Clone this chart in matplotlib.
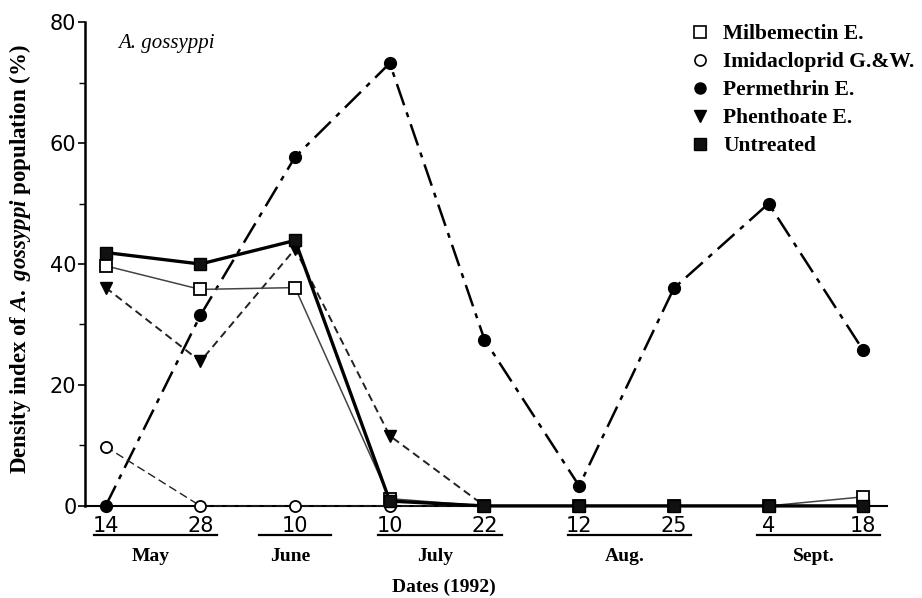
import numpy as np
import matplotlib.pyplot as plt
import matplotlib.transforms as mtransforms
from matplotlib.lines import Line2D

plt.rcParams['font.family'] = ['DejaVu Sans']
plt.rcParams['mathtext.fontset'] = 'custom'
plt.rcParams['mathtext.it'] = 'Liberation Serif:italic:bold'
plt.rcParams['mathtext.rm'] = 'Liberation Serif:bold'

# 调查日期 (1992)
days = ['14', '28', '10', '10', '22', '12', '25', '4', '18']
months = ['May', 'June', 'July', 'Aug.', 'Sept.']
month_days = [[0, 1], [2], [3, 4], [5, 6], [7, 8]]

# 密度指数 (%)
milbemectin = [39.7, 35.8, 36.1, 1.2, 0, 0, 0, 0, 1.5]
imidacloprid = [9.8, 0, 0, 0, 0, 0, 0, 0, 0]
permethrin = [0, 31.5, 57.7, 73.2, 27.5, 3.3, 36.0, 50.0, 25.7]
phenthoate = [36.1, 23.9, 42.5, 11.6, 0, 0, 0, 0, 0]
untreated = [41.9, 40.0, 43.9, 0.8, 0, 0, 0, 0, 0]

serif = 'Liberation Serif'
x = np.arange(len(days))

fig = plt.figure(figsize=(9.22, 5.98), dpi=100)
ax = fig.add_axes([0.092, 0.154, 0.870, 0.809])

# 各处理曲线
ax.plot(x, permethrin, color='k', lw=1.8, dashes=(9, 3, 2, 3),
        marker='o', ms=8.5, mfc='k', mec='k', zorder=2, clip_on=False)
ax.plot(x, phenthoate, color='#222222', lw=1.4, dashes=(4, 2.5),
        marker='v', ms=8.5, mfc='k', mec='k', zorder=3, clip_on=False)
ax.plot(x, imidacloprid, color='#222222', lw=1.0, dashes=(6, 3),
        marker='o', ms=8, mfc='white', mec='k', mew=1.3, zorder=4, clip_on=False)
ax.plot(x, milbemectin, color='#444444', lw=1.1,
        marker='s', ms=9, mfc='white', mec='k', mew=1.3, zorder=5, clip_on=False)
ax.plot(x, untreated, color='k', lw=2.4,
        marker='s', ms=9, mfc='#111111', mec='k', zorder=6, clip_on=False)

# 坐标轴
ax.set_xlim(-0.22, 8.25)
ax.set_ylim(0, 80)
ax.spines['top'].set_visible(False)
ax.spines['right'].set_visible(False)
ax.spines['left'].set_linewidth(1.8)
ax.spines['bottom'].set_linewidth(1.5)

ax.set_yticks([0, 20, 40, 60, 80])
ax.set_yticks([10, 30, 50, 70], minor=True)
ax.tick_params(axis='y', which='major', length=5, width=1.2, pad=1, labelsize=15)
ax.tick_params(axis='y', which='minor', length=4, width=1.0)
ax.set_xticks(x, days)
ax.tick_params(axis='x', length=0, pad=7, labelsize=15)

ax.set_ylabel(r'Density index of $\it{A.\ gossyppi}$ population (%)',
              fontfamily=serif, fontweight='bold', fontsize=16.5)
ax.yaxis.set_label_coords(-0.064, 0.51)

ax.text(0.041, 0.956, 'A. gossyppi', transform=ax.transAxes, family=serif,
        style='italic', fontsize=15, va='center', ha='left')

# 月份标注
trans = mtransforms.blended_transform_factory(ax.transData, ax.transAxes)
for name, idx in zip(months, month_days):
    if len(idx) == 1:
        a, b = idx[0] - 0.38, idx[0] + 0.38
    else:
        a, b = idx[0] - 0.12, idx[-1] + 0.18
    ax.plot([a, b], [-0.06, -0.06], color='k', lw=1.6, transform=trans, clip_on=False)
    ax.text((a + b) / 2 - 0.05, -0.105, name, transform=trans, family=serif,
            fontweight='bold', fontsize=14, ha='center', va='center')

ax.text(3.57, -0.168, 'Dates (1992)', transform=trans, family=serif,
        fontweight='bold', fontsize=14, ha='center', va='center')

# 图例
handles = [
    Line2D([], [], ls='none', marker='s', ms=8, mfc='white', mec='k', mew=1.2),
    Line2D([], [], ls='none', marker='o', ms=8, mfc='white', mec='k', mew=1.2),
    Line2D([], [], ls='none', marker='o', ms=8, mfc='k', mec='k'),
    Line2D([], [], ls='none', marker='v', ms=8, mfc='k', mec='k'),
    Line2D([], [], ls='none', marker='s', ms=8, mfc='#111111', mec='k'),
]
labels = ['Milbemectin E.', 'Imidacloprid G.&W.', 'Permethrin E.',
          'Phenthoate E.', 'Untreated']
ax.legend(handles, labels, loc='upper left', bbox_to_anchor=(0.753, 0.996),
          frameon=False, borderaxespad=0, borderpad=0, handlelength=1.0,
          handletextpad=0.6, labelspacing=0.37,
          prop={'family': serif, 'weight': 'bold', 'size': 15.5})

fig.savefig('out.png', dpi=100)
